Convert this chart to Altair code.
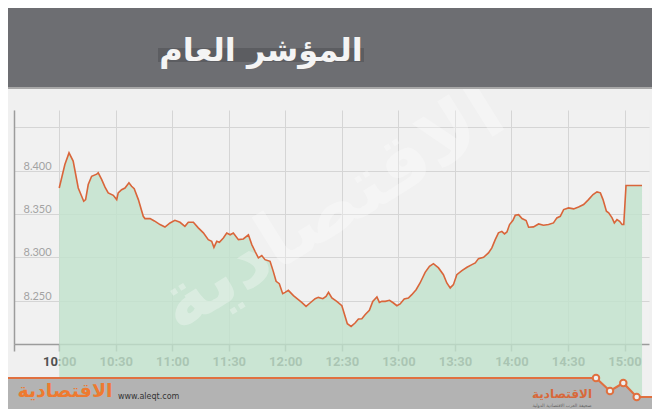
import altair as alt
import pandas as pd

# ---- data (minutes after 10:00, index value in thousands) ----
minutes = [
    0, 3.0, 5.2, 7.4, 10.1, 13.0, 14.0, 15.4, 17.2, 19.9,
    20.7, 22.5, 24.3, 26.0, 28.7, 30.5, 31.3, 33.1, 34.9, 37.0,
    38.4, 39.8, 42.0, 44.6, 45.5, 48.2, 50.5, 53.5, 56.1, 58.8,
    61.4, 64.1, 66.7, 68.5, 71.2, 73.8, 76.5, 79.1, 80.9, 82.1,
    83.6, 85.0, 87.1, 88.9, 90.7, 92.4, 95.1, 97.7, 100.4, 102.2,
    103.9, 105.7, 107.5, 109.2, 111.9, 113.6, 115.1, 116.8, 118.6, 119.9,
    121.6, 124.3, 126.9, 128.7, 131.0, 133.1, 135.8, 137.5, 139.9, 141.6,
    142.9, 144.7, 147.3, 150.0, 151.7, 152.9, 154.9, 157.0, 158.8, 160.6,
    162.3, 164.6, 166.4, 168.6, 169.9, 171.2, 173.0, 175.3, 177.4, 179.2,
    180.9, 183.1, 185.3, 187.1, 189.4, 191.5, 194.2, 196.5, 198.6, 201.3,
    203.9, 205.7, 207.5, 209.2, 211.0, 213.7, 216.4, 219.0, 220.8, 222.5,
    225.2, 227.8, 229.6, 231.4, 233.1, 234.9, 236.3, 237.6, 239.0, 240.8,
    242.0, 243.8, 245.6, 247.8, 249.1, 251.7, 254.4, 257.0, 259.7, 262.3,
    264.1, 265.9, 267.7, 270.3, 273.0, 275.6, 278.3, 280.9, 283.3, 285.4,
    287.2, 288.6, 290.4, 291.6, 293.4, 294.6, 296.0, 297.4, 298.7, 299.6,
    300.8, 309.3,
]
index_values = [
    8.380, 8.407, 8.4205, 8.411, 8.380, 8.3647, 8.3666, 8.384, 8.3935, 8.396,
    8.3975, 8.390, 8.381, 8.3744, 8.3716, 8.3666, 8.3744, 8.378, 8.380, 8.386,
    8.382, 8.3793, 8.3666, 8.3473, 8.3447, 8.3447, 8.342, 8.3378, 8.335, 8.3397,
    8.3427, 8.3404, 8.3358, 8.3404, 8.3404, 8.334, 8.3282, 8.3204, 8.3185, 8.3115,
    8.3185, 8.3173, 8.3224, 8.328, 8.326, 8.328, 8.3204, 8.3212, 8.326, 8.3147,
    8.307, 8.2993, 8.302, 8.2973, 8.2954, 8.2838, 8.2723, 8.2696, 8.2581, 8.2596,
    8.2619, 8.2558, 8.2512, 8.248, 8.2434, 8.2473, 8.2523, 8.2538, 8.2523, 8.255,
    8.2596, 8.2531, 8.2492, 8.2442, 8.2319, 8.2234, 8.2203, 8.2242, 8.2289, 8.2292,
    8.2338, 8.2388, 8.2492, 8.2543, 8.248, 8.2492, 8.2492, 8.2504, 8.2473, 8.2442,
    8.2462, 8.252, 8.2531, 8.2569, 8.2627, 8.2704, 8.2827, 8.2896, 8.2927, 8.2878,
    8.280, 8.2704, 8.2647, 8.2685, 8.280, 8.2846, 8.2885, 8.2916, 8.2935, 8.2985,
    8.300, 8.3051, 8.3109, 8.3204, 8.3282, 8.330, 8.327, 8.3293, 8.3378, 8.3427,
    8.3485, 8.3493, 8.3447, 8.3424, 8.3347, 8.3351, 8.3385, 8.337, 8.3378, 8.3397,
    8.3455, 8.3473, 8.3551, 8.357, 8.3559, 8.3582, 8.3609, 8.3666, 8.3724, 8.3755,
    8.3744, 8.3666, 8.3532, 8.3513, 8.3455, 8.3397, 8.3435, 8.3415, 8.3378, 8.3378,
    8.3828, 8.3828,
]
assert len(minutes) == len(index_values)

tick_minutes = [0, 30, 60, 90, 120, 150, 180, 210, 240, 270, 300]
tick_labels = ["10:00", "10:30", "11:00", "11:30", "12:00", "12:30",
               "13:00", "13:30", "14:00", "14:30", "15:00"]
y_ticks = [8.25, 8.30, 8.35, 8.40, 8.45]

title_text = "المؤشر العام"
brand_text = "الاقتصادية"
brand_sub = "صحيفة العرب الاقتصادية الدولية"
site_text = "www.aleqt.com"

df = pd.DataFrame({"m": minutes, "v": index_values})
one = alt.Data(values=[{"k": 1}])

W, H = 635, 234
xscale = alt.Scale(domain=[-24, 313], nice=False, zero=False)
yscale = alt.Scale(domain=[8.2, 8.47], nice=False, zero=False)

label_arr = "[" + ",".join("'" + t + "'" for t in tick_labels) + "]"
x_axis = alt.Axis(
    values=[-24] + tick_minutes,
    labelExpr="datum.value < 0 ? '' : " + label_arr + "[round(datum.value/30)]",
    title=None, grid=True, gridColor="#d5d5d5", gridWidth=1,
    domainColor="#9c9c9c", domainWidth=1.5, tickColor="#9c9c9c", tickWidth=1.5,
    tickSize=7, labelFont="Roboto", labelFontWeight="bold", labelFontSize=13,
    labelColor="#505050", labelPadding=4, labelFlush=False,
)
y_axis = alt.Axis(
    values=y_ticks,
    labelExpr="datum.value > 8.44 ? '' : format(datum.value, '.3f')",
    title=None, grid=True, gridColor="#d5d5d5", gridWidth=1,
    domainColor="#9c9c9c", domainWidth=1.5, ticks=False,
    labelAlign="left", labelPadding=-9, labelBaseline="alphabetic", labelOffset=-1.5,
    labelFont="Lato", labelFontSize=11, labelColor="#a3a3a3",
)

base = alt.Chart(df).encode(
    x=alt.X("m:Q", scale=xscale, axis=x_axis),
    y=alt.Y("v:Q", scale=yscale, axis=y_axis),
)
area = base.mark_area(color="#c0e2cc", opacity=0.8)
line = base.mark_line(color="#d9653a", strokeWidth=1.6)

watermark = alt.Chart(one).mark_text(
    text=brand_text, font="DejaVu Sans", fontWeight="bold", fontSize=78,
    angle=328, color="#ffffff", opacity=0.3, align="center", baseline="middle",
).encode(x=alt.value(318), y=alt.value(100))

header = alt.Chart(one).mark_rect(color="#6d6e72").encode(
    x=alt.value(-14), x2=alt.value(640), y=alt.value(-110), y2=alt.value(-23))
shadow = alt.Chart(one).mark_rect(color="#a8a8a8").encode(
    x=alt.value(-14), x2=alt.value(640), y=alt.value(-23), y2=alt.value(-21))
band = alt.Chart(one).mark_rect(color="#5c5d61").encode(
    x=alt.value(144), x2=alt.value(350), y=alt.value(-62), y2=alt.value(-48))
title = alt.Chart(one).mark_text(
    text=title_text, font="DejaVu Sans", fontWeight="bold", fontSize=32,
    color="#f4f4f4", align="center", baseline="alphabetic",
).encode(x=alt.value(247), y=alt.value(-49))

# footer band with zig-zag (custom symbol path; Vega scales unit coords by sqrt(size)/2)
S = 100.0
K = S / 2.0
poly = [(-14, 0), (582, 0), (596, 13), (609.3, 5), (622.7, 19), (646, 19), (646, 34), (-14, 34)]
poly_path = "M" + " L".join(f"{px / K:.4f},{py / K:.4f}" for px, py in poly) + " Z"
zig = [(-14, 0), (582, 0), (596, 13), (609.3, 5), (622.7, 19), (646, 19)]
zig_path = "M" + " L".join(f"{px / K:.4f},{py / K:.4f}" for px, py in zig)
footer = alt.Chart(one).mark_point(
    shape=poly_path, size=S * S, filled=True, fill="#b3b3b3", opacity=1, strokeWidth=0,
).encode(x=alt.value(0), y=alt.value(268))
footer_line = alt.Chart(one).mark_point(
    shape=zig_path, size=S * S, filled=False, stroke="#e0703f", strokeWidth=2.2, opacity=1,
).encode(x=alt.value(0), y=alt.value(268))
knots = alt.Chart(alt.Data(values=[
    {"px": 582, "py": 268}, {"px": 596, "py": 281}, {"px": 609.3, "py": 273}, {"px": 622.7, "py": 287},
])).mark_point(
    shape="circle", size=42, filled=True, fill="#f0f0f0", stroke="#e0703f",
    strokeWidth=2, opacity=1,
).encode(x=alt.X("px:Q", scale=None), y=alt.Y("py:Q", scale=None))

site = alt.Chart(one).mark_text(
    text=site_text, font="DejaVu Sans", fontSize=8, color="#333333",
    align="left", baseline="alphabetic",
).encode(x=alt.value(104), y=alt.value(289))
logo_left = alt.Chart(one).mark_text(
    text=brand_text, font="DejaVu Sans", fontWeight="bold", fontSize=19,
    color="#ee7a30", align="center", baseline="alphabetic",
).encode(x=alt.value(51), y=alt.value(287))
logo_right = alt.Chart(one).mark_text(
    text=brand_text, font="DejaVu Sans", fontWeight="bold", fontSize=12,
    color="#d8683a", align="center", baseline="alphabetic",
).encode(x=alt.value(548), y=alt.value(288))
logo_sub = alt.Chart(one).mark_text(
    text=brand_sub, font="DejaVu Sans", fontSize=4.5,
    color="#666666", align="center", baseline="alphabetic",
).encode(x=alt.value(548), y=alt.value(297))

chart = alt.layer(
    area, watermark, line,
    header, shadow, band, title,
    footer, footer_line, knots, site, logo_left, logo_right, logo_sub,
).properties(
    width=W, height=H,
    autosize=alt.AutoSizeParams(type="none"),
    padding={"left": 6, "top": 102, "right": 3, "bottom": 65},
).configure(
    background="#f0f0f0",
).configure_view(
    stroke=None, fill="#f1f1f1",
)

chart.save("out.html", embed_options={"renderer": "svg", "actions": False})
